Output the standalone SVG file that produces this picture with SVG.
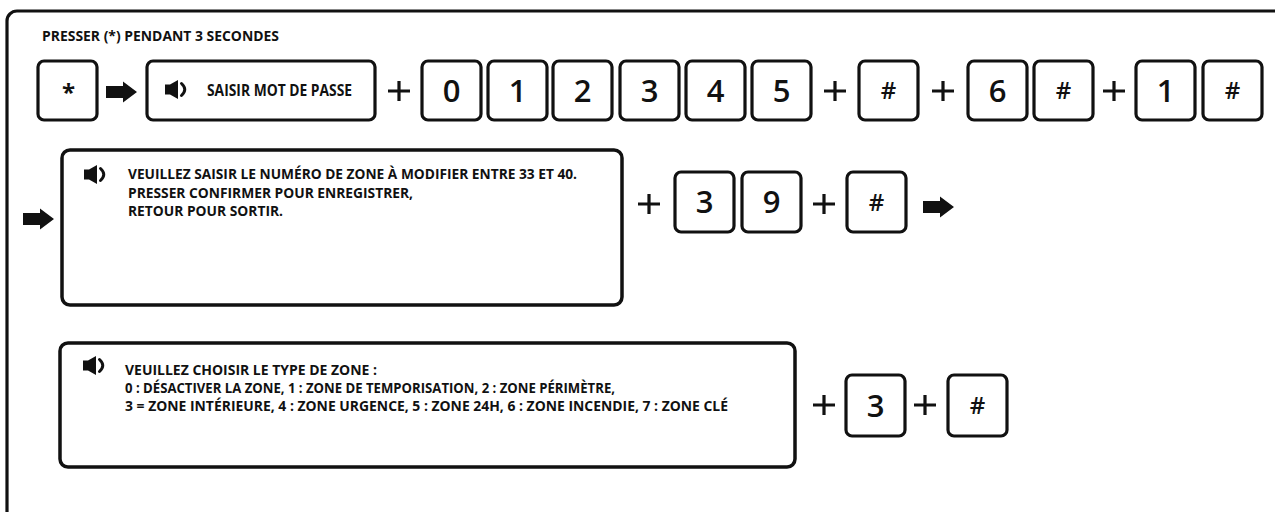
<svg xmlns="http://www.w3.org/2000/svg" xmlns:xlink="http://www.w3.org/1999/xlink" width="1275" height="512" viewBox="0 0 1275 512">
<style>
.key{fill:#fff;stroke:#111;stroke-width:3.2}
.big{fill:#fff;stroke:#111;stroke-width:3.5}
.t{font-family:"Open Sans","Noto Sans","Liberation Sans",sans-serif;font-weight:700;fill:#111}
.dg{font-size:31px;text-anchor:middle;font-weight:600}
.hs{font-size:24px;text-anchor:middle;font-weight:600}
.lbl{font-size:13.5px}
.msg{font-size:15px}
.plus{stroke:#111;stroke-width:3.2;fill:none}
</style>
<defs>
<path id="arrow" d="M0,-6 H17 V-10.5 L31,0 L17,10.5 V6 H0 Z" fill="#111"/>
<path id="plus" d="M-11,0 H11 M0,-10 V10" class="plus"/>
<g id="spk">
<path d="M0,4.5 H5 L13,0 V19 L5,14.5 H0 Z" fill="#111"/>
<path d="M16.5,3.5 Q23,9.5 16.5,15.5" fill="none" stroke="#111" stroke-width="3" stroke-linecap="round"/>
</g>
</defs>
<rect width="1275" height="512" fill="#fff"/>
<path id="frame" d="M7,520 V21 A10,10 0 0 1 17,11 H1285" fill="none" stroke="#111" stroke-width="3.2"/>
<text class="t lbl" x="42" y="41" textLength="237" lengthAdjust="spacingAndGlyphs">PRESSER (*) PENDANT 3 SECONDES</text>

<g id="connectors">
<use href="#arrow" x="106" y="92"/>
<use href="#plus" x="399" y="91"/>
<use href="#plus" x="835" y="91"/>
<use href="#plus" x="943" y="91"/>
<use href="#plus" x="1114" y="91"/>
<use href="#arrow" x="23" y="219"/>
<use href="#plus" x="649" y="204"/>
<use href="#plus" x="824" y="204"/>
<use href="#arrow" x="923" y="207"/>
<use href="#plus" x="824" y="405"/>
<use href="#plus" x="925" y="405"/>
</g>

<g id="key-star"><rect class="key" x="38" y="61" width="59" height="59" rx="6"/><text class="t" x="68.5" y="101" font-size="24" font-weight="600" text-anchor="middle">*</text></g>
<g id="prompt-password"><rect class="key" x="147" y="61" width="228" height="59" rx="6"/><use href="#spk" x="165" y="80"/><text class="t" x="207" y="95.5" font-size="15.5" textLength="145" lengthAdjust="spacingAndGlyphs">SAISIR MOT DE PASSE</text></g>
<g id="key-0"><rect class="key" x="422" y="61" width="59" height="59" rx="6"/><text class="t dg" x="451.5" y="101.5">0</text></g>
<g id="key-1"><rect class="key" x="488" y="61" width="59" height="59" rx="6"/><text class="t dg" x="517.5" y="101.5">1</text></g>
<g id="key-2"><rect class="key" x="553" y="61" width="59" height="59" rx="6"/><text class="t dg" x="582.5" y="101.5">2</text></g>
<g id="key-3"><rect class="key" x="620" y="61" width="59" height="59" rx="6"/><text class="t dg" x="649.5" y="101.5">3</text></g>
<g id="key-4"><rect class="key" x="686" y="61" width="59" height="59" rx="6"/><text class="t dg" x="715.5" y="101.5">4</text></g>
<g id="key-5"><rect class="key" x="752" y="61" width="59" height="59" rx="6"/><text class="t dg" x="781.5" y="101.5">5</text></g>
<g id="key-hash-1"><rect class="key" x="859" y="61" width="59" height="59" rx="6"/><text class="t hs" x="888.5" y="99">#</text></g>
<g id="key-6"><rect class="key" x="968" y="61" width="59" height="59" rx="6"/><text class="t dg" x="997.5" y="101.5">6</text></g>
<g id="key-hash-2"><rect class="key" x="1034" y="61" width="59" height="59" rx="6"/><text class="t hs" x="1063.5" y="99">#</text></g>
<g id="key-1b"><rect class="key" x="1136" y="61" width="59" height="59" rx="6"/><text class="t dg" x="1165.5" y="101.5">1</text></g>
<g id="key-hash-3"><rect class="key" x="1203" y="61" width="59" height="59" rx="6"/><text class="t hs" x="1232.5" y="99">#</text></g>

<g id="prompt-zone-number"><rect class="big" x="62" y="150" width="560" height="155" rx="8"/><use href="#spk" x="84" y="165"/>
<text class="t msg" x="128" y="179" textLength="449" lengthAdjust="spacingAndGlyphs">VEUILLEZ SAISIR LE NUMÉRO DE ZONE À MODIFIER ENTRE 33 ET 40.</text>
<text class="t msg" x="128" y="198" textLength="285" lengthAdjust="spacingAndGlyphs">PRESSER CONFIRMER POUR ENREGISTRER,</text>
<text class="t msg" x="128" y="216" textLength="155" lengthAdjust="spacingAndGlyphs">RETOUR POUR SORTIR.</text></g>
<g id="key-3b"><rect class="key" x="675" y="172" width="59" height="60" rx="6"/><text class="t dg" x="704.5" y="213">3</text></g>
<g id="key-9"><rect class="key" x="742" y="172" width="59" height="60" rx="6"/><text class="t dg" x="771.5" y="213">9</text></g>
<g id="key-hash-4"><rect class="key" x="847" y="172" width="59" height="60" rx="6"/><text class="t hs" x="876.5" y="210.5">#</text></g>

<g id="prompt-zone-type"><rect class="big" x="60" y="343" width="735" height="124" rx="8"/><use href="#spk" x="83" y="356"/>
<text class="t msg" x="125" y="375" textLength="252" lengthAdjust="spacingAndGlyphs">VEUILLEZ CHOISIR LE TYPE DE ZONE :</text>
<text class="t msg" x="125" y="393" textLength="490" lengthAdjust="spacingAndGlyphs">0 : DÉSACTIVER LA ZONE, 1 : ZONE DE TEMPORISATION, 2 : ZONE PÉRIMÈTRE,</text>
<text class="t msg" x="125" y="410.5" textLength="603" lengthAdjust="spacingAndGlyphs">3 = ZONE INTÉRIEURE, 4 : ZONE URGENCE, 5 : ZONE 24H, 6 : ZONE INCENDIE, 7 : ZONE CLÉ</text></g>
<g id="key-3c"><rect class="key" x="846" y="375" width="59" height="61" rx="6"/><text class="t dg" x="875.5" y="416.5">3</text></g>
<g id="key-hash-5"><rect class="key" x="948" y="375" width="59" height="61" rx="6"/><text class="t hs" x="977.5" y="414">#</text></g>
</svg>
